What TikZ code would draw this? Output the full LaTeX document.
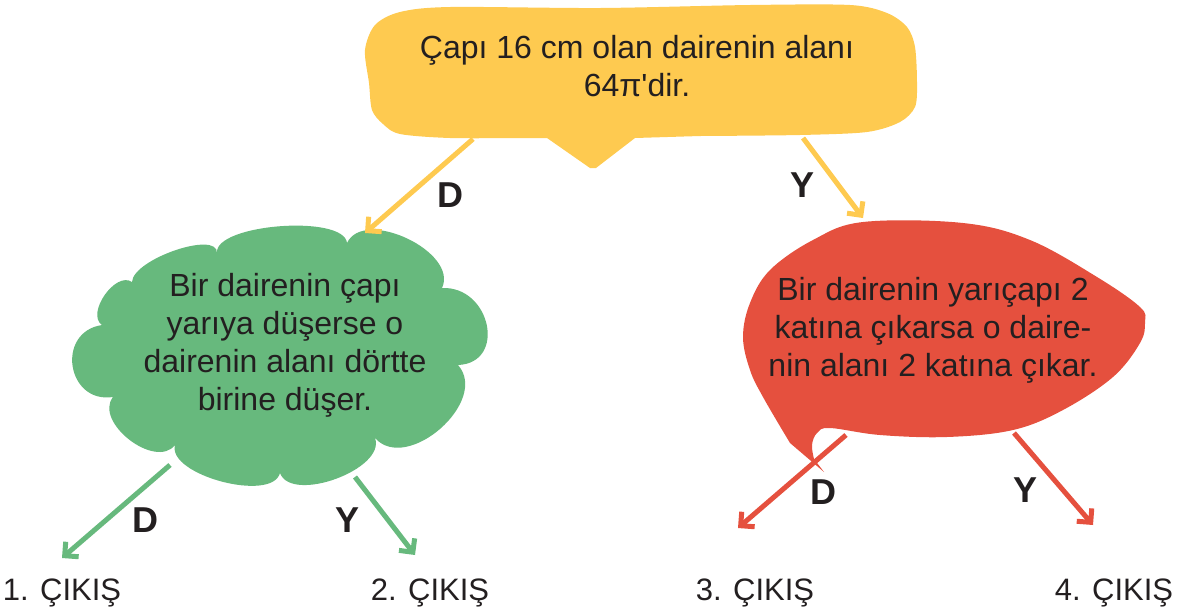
\documentclass[tikz,border=0pt]{standalone}
\usepackage{fontspec}
\setmainfont{Liberation Sans}
\usetikzlibrary{arrows.meta}
\definecolor{yel}{HTML}{FECA50}
\definecolor{grn}{HTML}{67B97D}
\definecolor{rd}{HTML}{E5503E}
\definecolor{ink}{HTML}{231F20}
\begin{document}
\begin{tikzpicture}[x=1pt,y=-1pt,
  body/.style={font=\fontsize{32}{38}\selectfont, text=ink, align=center, inner sep=0pt},
  lbl/.style={font=\fontsize{36}{42}\selectfont\bfseries, text=ink, inner sep=0pt},
  exitlbl/.style={font=\fontsize{31}{37}\selectfont, text=ink, inner sep=0pt, anchor=base},
  conn/.style={line width=5pt, -{Straight Barb[angle=90:14pt]}},
]
\useasboundingbox (0,0) rectangle (1178,614);
% yellow speech bubble
\fill[yel] (547,138) -- (590,168) -- (596,168) -- (635,138) -- plot[smooth, tension=0.5] coordinates {(700,136) (800,135) (867,132) (900,122) (915,107) (917,83) (915,47) (907,27) (887,13) (850,5) (750,5) (600,8) (450,7) (400,12) (375,25) (365,50) (369,83) (372,110) (383,124) (400,134) (450,138) (520,138)} -- cycle;
% green cloud
\fill[grn] (132,282) .. controls (133,259) and (218,230) .. (217,253)
  .. controls (214,224) and (344,214) .. (347,243)
  .. controls (364,207) and (459,252) .. (442,288)
  .. controls (491,286) and (507,363) .. (458,365)
  .. controls (490,401) and (407,474) .. (375,438)
  .. controls (386.5,469) and (291.5,504) .. (280,473)
  .. controls (272,503) and (167,475) .. (175,445)
  .. controls (155.5,470) and (93.5,422) .. (113,397)
  .. controls (66.5,404) and (55.5,332) .. (102,325)
  .. controls (85.6,313.6) and (115.6,270.6) .. (132,282) -- cycle;
% red speech bubble
\fill[rd] (824,472) -- plot[smooth, tension=0.6] coordinates {(790,443) (763,397) (750,370) (743,337) (750,303) (770,270) (813,240) (863,222) (963,223) (1030,240) (1097,277) (1140,307) (1145,322) (1140,343) (1113,377) (1063,410) (1013,430) (947,437) (880,435) (830,428) (817,433) (812,445) (814,459)} -- cycle;
% texts
\node[body] (q) at (637,66) {Çapı 16 cm olan dairenin alanı\\64π\textquotesingle dir.};
\node[body] (g) at (285,345.5) {Bir dairenin çapı\\yarıya düşerse o\\dairenin alanı dörtte\\birine düşer.};
\node[body] (r) at (933,330) {Bir dairenin yarıçapı 2\\katına çıkarsa o daire-\\nin alanı 2 katına çıkar.};
% connector ends
\coordinate (a1s) at (473,139); \coordinate (a1e) at (365,233);
\coordinate (a2s) at (803,138); \coordinate (a2e) at (863,218);
\coordinate (a3s) at (170,465); \coordinate (a3e) at (62,558);
\coordinate (a4s) at (355,477); \coordinate (a4e) at (415,555);
\coordinate (a5s) at (846,435); \coordinate (a5e) at (738,528);
\coordinate (a6s) at (1014,433); \coordinate (a6e) at (1093,525);
\draw[conn, yel] (a1s) -- (a1e);
\draw[conn, yel] (a2s) -- (a2e);
\draw[conn, grn] (a3s) -- (a3e);
\draw[conn, grn] (a4s) -- (a4e);
\draw[conn, rd] (a5s) -- (a5e);
\draw[conn, rd] (a6s) -- (a6e);
% branch labels
\node[lbl] (l1) at (450,195) {D};
\node[lbl] (l2) at (802,185) {Y};
\node[lbl] (l3) at (145,520) {D};
\node[lbl] (l4) at (348,520) {Y};
\node[lbl] (l5) at (823,492) {D};
\node[lbl] (l6) at (1025,490) {Y};
% exits
\node[exitlbl] (e1) at (62,600) {1. ÇIKIŞ};
\node[exitlbl] (e2) at (430,600) {2. ÇIKIŞ};
\node[exitlbl] (e3) at (755,600) {3. ÇIKIŞ};
\node[exitlbl] (e4) at (1114,600) {4. ÇIKIŞ};
\end{tikzpicture}
\end{document}
